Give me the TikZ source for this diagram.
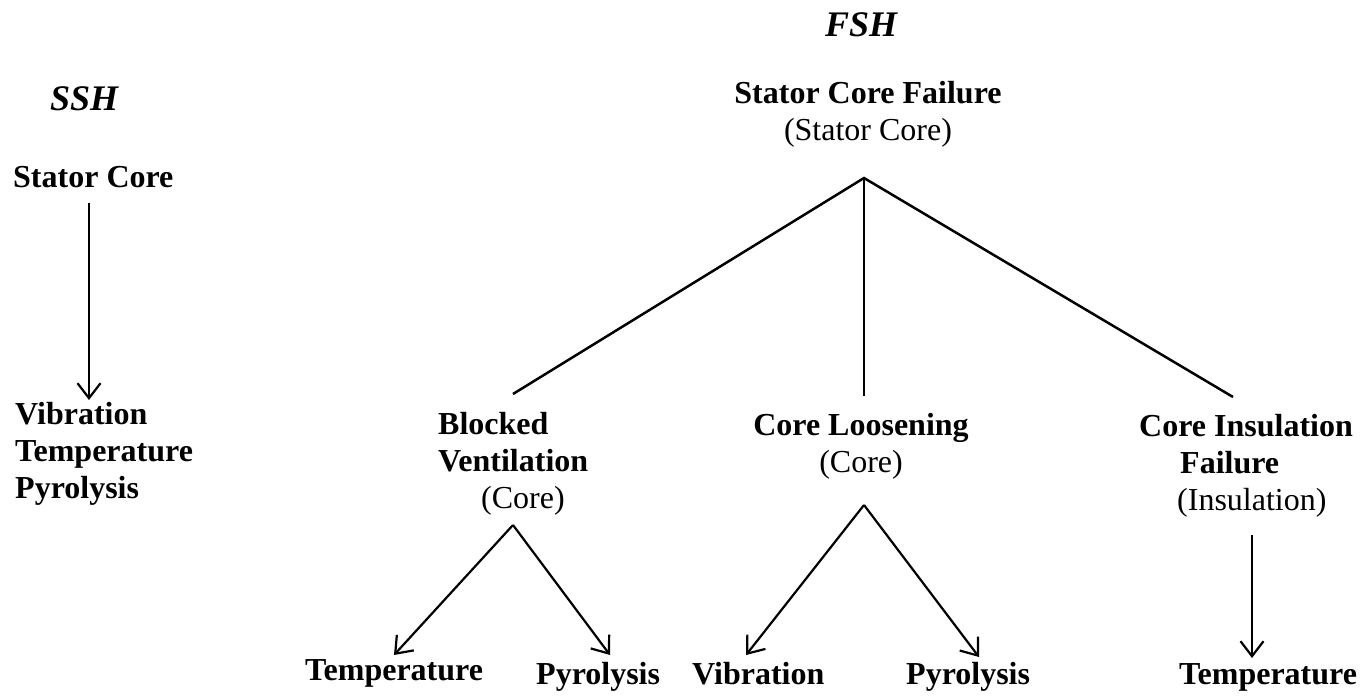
\documentclass[tikz,border=0pt]{standalone}
\usepackage{fontspec}
\setmainfont{Liberation Serif}
\usetikzlibrary{arrows.meta}
\begin{document}
\begin{tikzpicture}[x=1pt,y=-1pt,
  lbl/.style={inner sep=0pt, font=\fontsize{32}{37}\selectfont\bfseries, align=left, anchor=base west},
  hdr/.style={inner sep=0pt, font=\fontsize{36}{40}\selectfont\bfseries\itshape, anchor=base west},
  link/.style={line width=2.5pt},
  arr/.style={line width=2.2pt, -{Straight Barb[length=15pt,width=23pt,line width=2.2pt]}}]
\useasboundingbox (0,0) rectangle (1367,699);

% headings
\node[hdr] (ssh) at (50,110) {SSH};
\node[hdr] (fsh) at (825,36) {FSH};

% single-symptom hierarchy (multi-line labels are anchored on their last line)
\node[lbl] (sscore) at (13,187) {Stator Core};
\node[lbl] (sslist) at (15,498) {Vibration\\Temperature\\Pyrolysis};
\coordinate (ssA) at (89,203);
\coordinate (ssB) at (89,400);
\draw[arr] (ssA) -- (ssB);

% failure-symptom hierarchy
\node[lbl, align=center, anchor=base] (root) at (868,140) {Stator Core Failure\\\mdseries (Stator Core)};
\node[lbl] (bv) at (438,508) {Blocked\\Ventilation\\\hspace*{43pt}\mdseries(Core)};
\node[lbl, align=center, anchor=base] (cl) at (861,472) {Core Loosening\\\mdseries(Core)};
\node[lbl] (ci) at (1139,510) {Core Insulation\\\hspace*{41pt}Failure\\\hspace*{38pt}\mdseries(Insulation)};

\node[lbl] (t1) at (305,680) {Temperature};
\node[lbl] (p1) at (536,684) {Pyrolysis};
\node[lbl] (v2) at (692,684) {Vibration};
\node[lbl] (p2) at (906,684) {Pyrolysis};
\node[lbl] (t3) at (1179,684) {Temperature};

% branch points
\coordinate (rootA) at (864,178);
\coordinate (bvIn) at (513,394);
\coordinate (clIn) at (864,396);
\coordinate (ciIn) at (1233,397);
\coordinate (bvA) at (513,525);
\coordinate (clA) at (864,505);
\coordinate (ciA) at (1252,535);
\coordinate (t1In) at (394,655);
\coordinate (p1In) at (610,655);
\coordinate (v2In) at (746,655);
\coordinate (p2In) at (979,657);
\coordinate (t3In) at (1252,658);

\draw[link] (bvIn) -- (rootA) -- (ciIn);
\draw[link] (rootA) -- (clIn);

\draw[arr] (bvA) -- (t1In);
\draw[arr] (bvA) -- (p1In);
\draw[arr] (clA) -- (v2In);
\draw[arr] (clA) -- (p2In);
\draw[arr] (ciA) -- (t3In);
\end{tikzpicture}
\end{document}
